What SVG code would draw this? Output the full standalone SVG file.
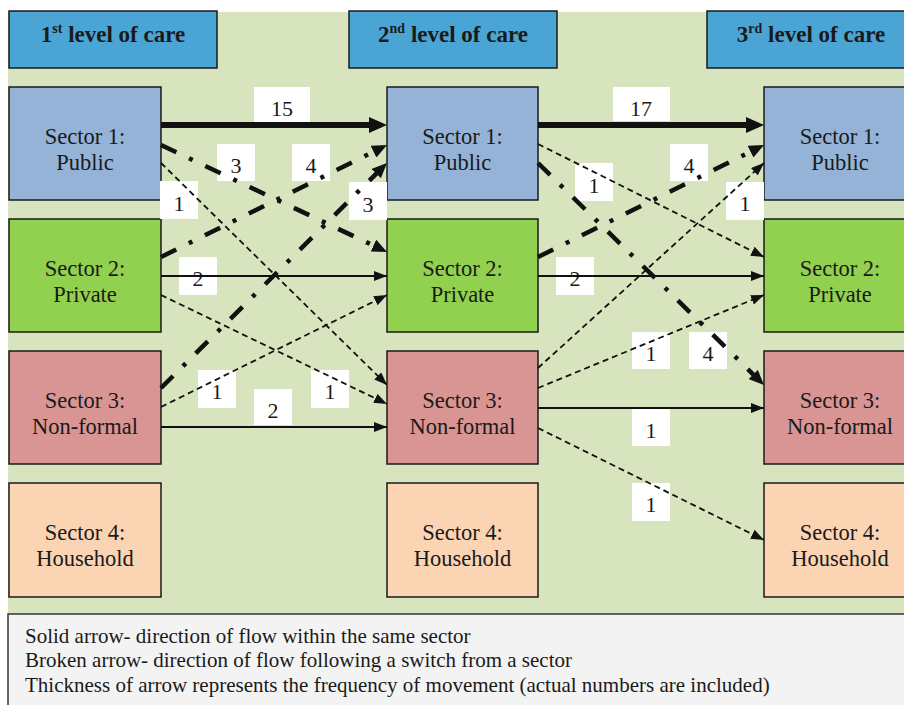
<svg xmlns="http://www.w3.org/2000/svg" width="904" height="705" viewBox="0 0 904 705">
<style>
.bg{fill:#d7e4bd}
.hdr{fill:#4ba5d4;stroke:#1a1a1a;stroke-width:1.5}
.s1{fill:#95b3d7;stroke:#1a1a1a;stroke-width:1.5}
.s2{fill:#92d050;stroke:#1a1a1a;stroke-width:1.5}
.s3{fill:#d99594;stroke:#1a1a1a;stroke-width:1.5}
.s4{fill:#fbd4b4;stroke:#1a1a1a;stroke-width:1.5}
.leg{fill:#f3f3f3;stroke:#333;stroke-width:1.5}
.ht{font-family:"Liberation Serif","Times New Roman",serif;font-weight:bold;font-size:23px;fill:#1a1a1a;text-anchor:middle}
.nt{font-family:"Liberation Serif","Times New Roman",serif;font-size:22.5px;fill:#1a1a1a;text-anchor:middle}
.lt{font-family:"Liberation Serif","Times New Roman",serif;font-size:22px;fill:#1a1a1a;text-anchor:middle}
.gt{font-family:"Liberation Serif","Times New Roman",serif;font-size:21px;fill:#1a1a1a}
.lb{fill:#fff}
.c{fill:none;stroke:#111}
.thick{stroke-width:6;marker-end:url(#a3)}
.solid{stroke-width:2;marker-end:url(#a1)}
.dash{stroke-width:1.8;stroke-dasharray:6 4;marker-end:url(#a1)}
.dd{stroke-width:4.5;stroke-dasharray:17 14 4 14;marker-end:url(#a2)}
</style>
<defs>
<marker id="a1" markerUnits="userSpaceOnUse" markerWidth="13" markerHeight="10" refX="13" refY="5" orient="auto"><path d="M0,0L13,5L0,10z" fill="#111"/></marker>
<marker id="a2" markerUnits="userSpaceOnUse" markerWidth="15" markerHeight="13" refX="9" refY="6.5" orient="auto"><path d="M0,0L15,6.5L0,13z" fill="#111"/></marker>
<marker id="a3" markerUnits="userSpaceOnUse" markerWidth="18" markerHeight="16" refX="12" refY="8" orient="auto"><path d="M0,0L18,8L0,16z" fill="#111"/></marker>
</defs>
<rect x="0" y="0" width="904" height="705" fill="#fff"/>
<rect class="bg" x="8" y="12" width="910" height="602"/>

<g id="header1"><rect class="hdr" x="9" y="11" width="208" height="57"/><text class="ht" x="113" y="42">1<tspan font-size="14" dy="-9">st</tspan><tspan dy="9"> level of care</tspan></text></g>
<g id="header2"><rect class="hdr" x="349" y="11" width="208" height="57"/><text class="ht" x="453" y="42">2<tspan font-size="14" dy="-9">nd</tspan><tspan dy="9"> level of care</tspan></text></g>
<g id="header3"><rect class="hdr" x="707" y="11" width="210" height="57"/><text class="ht" x="811" y="42">3<tspan font-size="14" dy="-9">rd</tspan><tspan dy="9"> level of care</tspan></text></g>

<g id="c1s1"><rect class="s1" x="9" y="87" width="152" height="113"/><text class="nt" x="85" y="143.5">Sector 1:</text><text class="nt" x="85" y="169.5">Public</text></g>
<g id="c1s2"><rect class="s2" x="9" y="219" width="152" height="113"/><text class="nt" x="85" y="275.5">Sector 2:</text><text class="nt" x="85" y="301.5">Private</text></g>
<g id="c1s3"><rect class="s3" x="9" y="351" width="152" height="113"/><text class="nt" x="85" y="407.5">Sector 3:</text><text class="nt" x="85" y="433.5">Non-formal</text></g>
<g id="c1s4"><rect class="s4" x="9" y="483" width="152" height="114"/><text class="nt" x="85" y="540">Sector 4:</text><text class="nt" x="85" y="566">Household</text></g>

<g id="c2s1"><rect class="s1" x="387" y="87" width="151" height="113"/><text class="nt" x="462.5" y="143.5">Sector 1:</text><text class="nt" x="462.5" y="169.5">Public</text></g>
<g id="c2s2"><rect class="s2" x="387" y="219" width="151" height="113"/><text class="nt" x="462.5" y="275.5">Sector 2:</text><text class="nt" x="462.5" y="301.5">Private</text></g>
<g id="c2s3"><rect class="s3" x="387" y="351" width="151" height="113"/><text class="nt" x="462.5" y="407.5">Sector 3:</text><text class="nt" x="462.5" y="433.5">Non-formal</text></g>
<g id="c2s4"><rect class="s4" x="387" y="483" width="151" height="114"/><text class="nt" x="462.5" y="540">Sector 4:</text><text class="nt" x="462.5" y="566">Household</text></g>

<g id="c3s1"><rect class="s1" x="764" y="87" width="153" height="113"/><text class="nt" x="840" y="143.5">Sector 1:</text><text class="nt" x="840" y="169.5">Public</text></g>
<g id="c3s2"><rect class="s2" x="764" y="219" width="153" height="113"/><text class="nt" x="840" y="275.5">Sector 2:</text><text class="nt" x="840" y="301.5">Private</text></g>
<g id="c3s3"><rect class="s3" x="764" y="351" width="153" height="113"/><text class="nt" x="840" y="407.5">Sector 3:</text><text class="nt" x="840" y="433.5">Non-formal</text></g>
<g id="c3s4"><rect class="s4" x="764" y="483" width="153" height="114"/><text class="nt" x="840" y="540">Sector 4:</text><text class="nt" x="840" y="566">Household</text></g>

<g id="labels">
<rect class="lb" x="254" y="87" width="56" height="35"/><text class="lt" x="282" y="116">15</text>
<rect class="lb" x="217" y="144" width="38" height="37"/><text class="lt" x="236" y="173">3</text>
<rect class="lb" x="292" y="144" width="38" height="37"/><text class="lt" x="311" y="173">4</text>
<rect class="lb" x="160" y="181" width="38" height="38"/><text class="lt" x="179" y="211">1</text>
<rect class="lb" x="349" y="182" width="38" height="38"/><text class="lt" x="368" y="212">3</text>
<rect class="lb" x="179" y="257" width="38" height="38"/><text class="lt" x="198" y="286">2</text>
<rect class="lb" x="198" y="370" width="38" height="38"/><text class="lt" x="217" y="399">1</text>
<rect class="lb" x="311" y="370" width="38" height="38"/><text class="lt" x="330" y="399">1</text>
<rect class="lb" x="254" y="389" width="38" height="36"/><text class="lt" x="273" y="418">2</text>
<rect class="lb" x="613" y="87" width="57" height="34"/><text class="lt" x="641" y="116">17</text>
<rect class="lb" x="575" y="163" width="38" height="38"/><text class="lt" x="594" y="193">1</text>
<rect class="lb" x="670" y="144" width="38" height="37"/><text class="lt" x="689" y="173">4</text>
<rect class="lb" x="726" y="182" width="38" height="38"/><text class="lt" x="745" y="211">1</text>
<rect class="lb" x="556" y="257" width="38" height="38"/><text class="lt" x="575" y="286">2</text>
<rect class="lb" x="632" y="332" width="38" height="37"/><text class="lt" x="651" y="361">1</text>
<rect class="lb" x="689" y="332" width="38" height="37"/><text class="lt" x="708" y="361">4</text>
<rect class="lb" x="632" y="409" width="38" height="37"/><text class="lt" x="651" y="438">1</text>
<rect class="lb" x="632" y="483" width="38" height="38"/><text class="lt" x="651" y="512">1</text>
</g>

<g id="connectors">
<path class="c thick" d="M161,125L381,125"/>
<path class="c thick" d="M538,125L758,125"/>
<path class="c dd" d="M161,145L381.6,249.4"/>
<path class="c dd" d="M161,257L381.6,147.7"/>
<path class="c dd" d="M161,388L382.7,167.2"/>
<path class="c dash" d="M161,163L387,385"/>
<path class="c dash" d="M161,295L387,404"/>
<path class="c dash" d="M161,407L387,295"/>
<path class="c solid" d="M161,276L387,276"/>
<path class="c solid" d="M161,427L387,427"/>
<path class="c dash" d="M538,144L764,257"/>
<path class="c dd" d="M538,163L759.7,380.8"/>
<path class="c dd" d="M538,257L758.6,147.7"/>
<path class="c solid" d="M538,276L764,276"/>
<path class="c dash" d="M538,368L764,163"/>
<path class="c dash" d="M538,388L764,295"/>
<path class="c solid" d="M538,408L764,408"/>
<path class="c dash" d="M538,428L764,540"/>
</g>

<g id="legend">
<rect class="leg" x="8" y="614" width="910" height="100"/>
<text class="gt" x="25" y="643">Solid arrow- direction of flow within the same sector</text>
<text class="gt" x="25" y="667">Broken arrow- direction of flow following a switch from a sector</text>
<text class="gt" x="25" y="692">Thickness of arrow represents the frequency of movement (actual numbers are included)</text>
</g>
</svg>
